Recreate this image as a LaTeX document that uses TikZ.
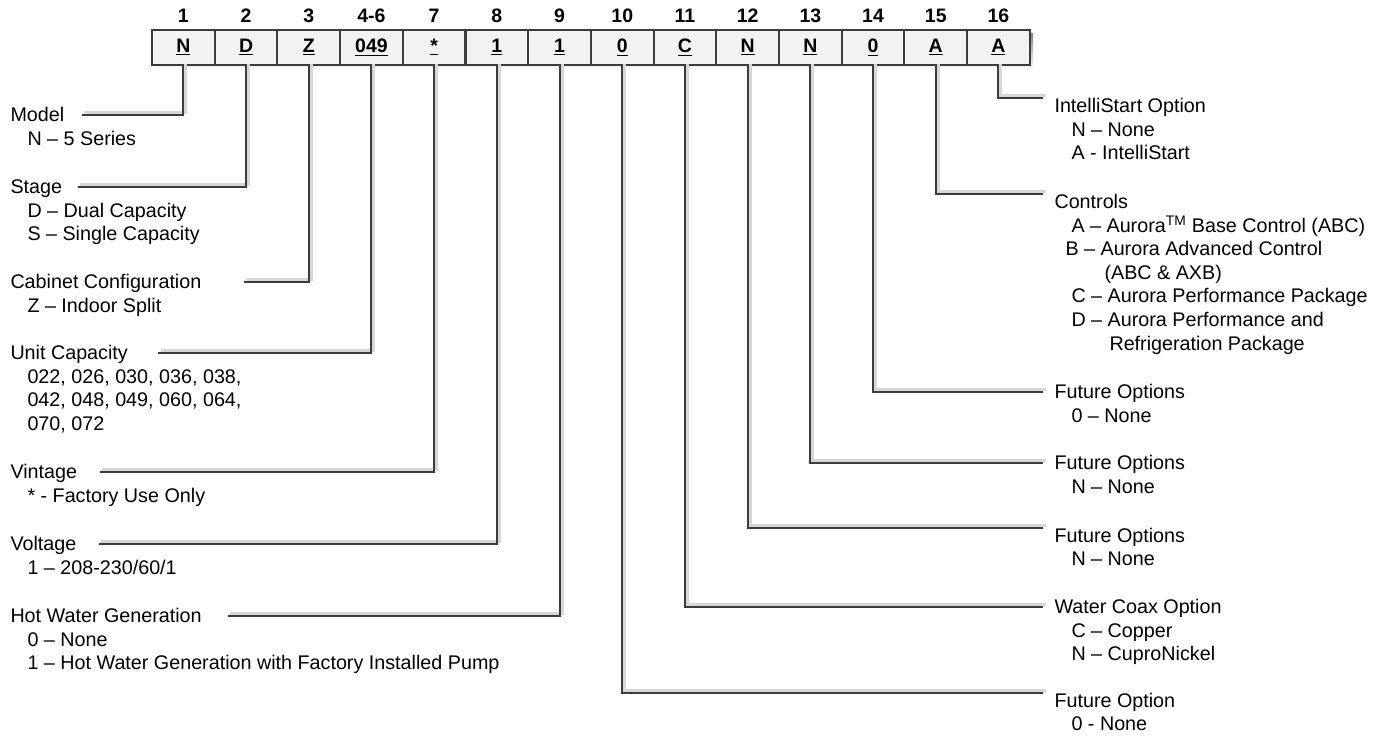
\documentclass[tikz,border=0pt]{standalone}
\usepackage{fontspec}
\setmainfont{Liberation Sans}

\definecolor{ink}{RGB}{60,60,60}
\definecolor{shade}{RGB}{215,215,215}
\definecolor{cellfill}{RGB}{242,242,242}
\newcommand\optfont{\fontsize{14.8}{17.8}\selectfont}
\newcommand\codefont{\fontsize{14.6}{17}\selectfont\bfseries}

\tikzset{every picture/.style={line width=0.75pt}}
\tikzset{
  lead/.style={draw=ink,line width=1.5pt,preaction={draw=shade,line width=2.25pt,transform canvas={shift={(2.5,2.5)}}}},
  cell/.style={draw=ink,line width=1.5pt,fill=cellfill,minimum width=47pt,minimum height=26.25pt,inner sep=0pt,font=\codefont},
  head/.style={anchor=base,inner sep=0pt,font=\codefont},
  title/.style={anchor=base west,inner sep=0pt,text height=10.5pt,text depth=1.5pt,font=\optfont},
  opt/.style={anchor=base west,inner sep=0pt,font=\optfont}
}

\begin{document}
\begin{tikzpicture}[x=0.75pt,y=0.75pt,yscale=-1,xscale=1]
\useasboundingbox (0,0) rectangle (1387,736);

%Shape: shadow of the code row
\fill[shade] (155,33) rectangle (1033,69);

% code boxes with their position numbers
\foreach \hd/\cd [count=\i] in {1/N,2/D,3/Z,4-6/049,7/*,8/1,9/1,10/0,11/C,12/N,13/N,14/0,15/A,16/A}{
  \node[cell] (c\i) at ({152+62.7*(\i-0.5)},47.5) {\underline{\cd}};
  \node[head] (h\i) at ({152+62.7*(\i-0.5)},22) {\hd};
}

% Text Node
\node[title] (model) at (10,121) {Model};
\node[opt] (model1) at (27,145) {N – 5 Series};
% Text Node
\node[title] (stage) at (10,193) {Stage};
\node[opt] (stage1) at (27,217) {D – Dual Capacity};
\node[opt] (stage2) at (27,240.5) {S – Single Capacity};
% Text Node
\node[title] (cabinet) at (10,288) {Cabinet Configuration};
\node[opt] (cabinet1) at (27,312) {Z – Indoor Split};
% Text Node
\node[title] (capacity) at (10,359) {Unit Capacity};
\node[opt] (capacity1) at (27,383) {022, 026, 030, 036, 038,};
\node[opt] (capacity2) at (27,406.5) {042, 048, 049, 060, 064,};
\node[opt] (capacity3) at (27,430) {070, 072};
% Text Node
\node[title] (vintage) at (10,478) {Vintage};
\node[opt] (vintage1) at (27,502) {* - Factory Use Only};
% Text Node
\node[title] (voltage) at (10,550) {Voltage};
\node[opt] (voltage1) at (27,574) {1 – 208-230/60/1};
% Text Node
\node[title] (hotwater) at (10,622) {Hot Water Generation};
\node[opt] (hotwater1) at (27,646) {0 – None};
\node[opt] (hotwater2) at (27,669.5) {1 – Hot Water Generation with Factory Installed Pump};

% Text Node
\node[title] (intelli) at (1054,112) {IntelliStart Option};
\node[opt] (intelli1) at (1071,136) {N – None};
\node[opt] (intelli2) at (1071,159.5) {A - IntelliStart};
% Text Node
\node[title] (controls) at (1054,208) {Controls};
\node[opt] (controls1) at (1071,232) {A – Aurora\textsuperscript{TM} Base Control (ABC)};
\node[opt] (controls2) at (1065,255.6) {B – Aurora Advanced Control};
\node[opt] (controls3) at (1104,279.2) {(ABC \& AXB)};
\node[opt] (controls4) at (1071,302.8) {C – Aurora Performance Package};
\node[opt] (controls5) at (1071,326.4) {D – Aurora Performance and};
\node[opt] (controls6) at (1109,350) {Refrigeration Package};
% Text Node
\node[title] (fut14) at (1054,398) {Future Options};
\node[opt] (fut14a) at (1071,422) {0 – None};
% Text Node
\node[title] (fut13) at (1054,469) {Future Options};
\node[opt] (fut13a) at (1071,493) {N – None};
% Text Node
\node[title] (fut12) at (1054,542) {Future Options};
\node[opt] (fut12a) at (1071,565) {N – None};
% Text Node
\node[title] (coax) at (1054,613) {Water Coax Option};
\node[opt] (coax1) at (1071,637) {C – Copper};
\node[opt] (coax2) at (1071,660) {N – CuproNickel};
% Text Node
\node[title] (fut10) at (1054,707) {Future Option};
\node[opt] (fut10a) at (1071,730) {0 - None};

% leaders to the left
\draw[lead] ([xshift=12.75pt]model.east) -| (c1.south);
\draw[lead] ([xshift=11.25pt]stage.east) -| (c2.south);
\draw[lead] ([xshift=31.5pt]cabinet.east) -| (c3.south);
\draw[lead] ([xshift=22.5pt]capacity.east) -| (c4.south);
\draw[lead] ([xshift=16.5pt]vintage.east) -| (c5.south);
\draw[lead] ([xshift=16.5pt]voltage.east) -| (c6.south);
\draw[lead] ([xshift=19pt]hotwater.east) -| (c7.south);
% leaders to the right
\draw[lead] (c14.south) |- ([xshift=-8pt]intelli.north west);
\draw[lead] (c13.south) |- ([xshift=-8pt]controls.north west);
\draw[lead] (c12.south) |- ([xshift=-8pt]fut14.west);
\draw[lead] (c11.south) |- ([xshift=-8pt]fut13.west);
\draw[lead] (c10.south) |- ([xshift=-8pt]fut12.north west);
\draw[lead] (c9.south) |- ([xshift=-8pt]coax.west);
\draw[lead] (c8.south) |- ([xshift=-8pt]fut10.north west);

\end{tikzpicture}
\end{document}
